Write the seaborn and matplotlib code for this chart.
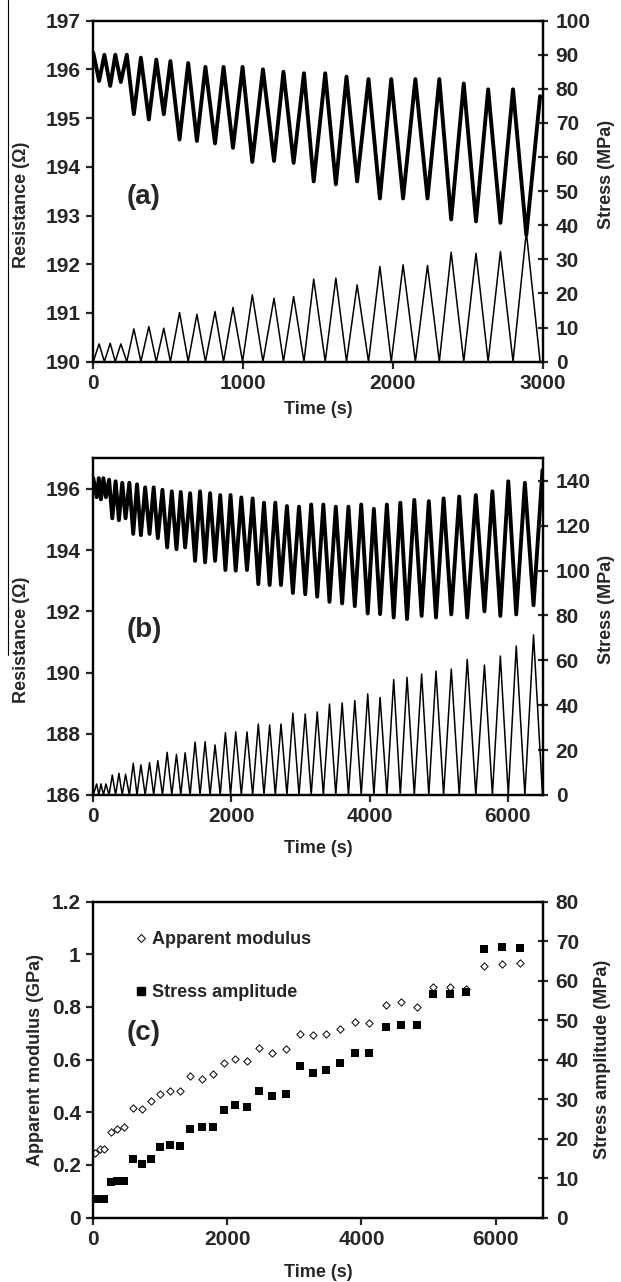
import matplotlib
matplotlib.use("Agg")
import matplotlib.pyplot as plt
import seaborn as sns
import pandas as pd
from matplotlib.lines import Line2D

# ---------------- panel (a): 0-3000 s ----------------
a_zero_t = [0, 74, 147, 224, 318, 421, 515, 634, 749, 870, 997, 1133, 1270, 1407,
            1549, 1691, 1838, 1990, 2151, 2311, 2474, 2637, 2803, 2984]
a_peak_t = [39, 113, 184, 271, 371, 471, 576, 692, 813, 933, 1062, 1207, 1338, 1472,
            1620, 1762, 1914, 2069, 2232, 2390, 2556, 2719, 2892]
a_peak_stress = [5.2, 5.4, 5.2, 9.6, 10.3, 9.8, 14.4, 13.9, 14.7, 15.9, 19.6, 18.6, 19.1,
                 24.2, 24.5, 22.5, 27.9, 28.4, 28.2, 32.1, 31.8, 32.3, 38.0]
a_res_max = [196.34, 196.30, 196.30, 196.30, 196.24, 196.20, 196.17, 196.13, 196.05, 196.05,
             196.05, 196.00, 195.95, 195.92, 195.92, 195.85, 195.80, 195.80, 195.80, 195.80,
             195.71, 195.59, 195.59, 195.45]
a_res_min = [195.76, 195.66, 195.74, 195.08, 194.97, 195.08, 194.56, 194.53, 194.48, 194.39,
             194.10, 194.12, 194.08, 193.70, 193.64, 193.70, 193.35, 193.35, 193.35, 192.92,
             192.88, 192.85, 192.60]

# ---------------- panel (b): 0-6500 s ----------------
b_zero_t = [0, 80, 147, 229, 323, 419, 522, 633, 751, 874, 1001, 1136, 1266, 1401, 1545,
            1690, 1837, 1986, 2142, 2306, 2470, 2634, 2802, 2977, 3153, 3329, 3509, 3692,
            3877, 4060, 4248, 4443, 4645, 4855, 5069, 5295, 5535, 5775, 6005, 6245, 6500]
b_peak_t = [49, 111, 183, 275, 371, 467, 578, 689, 814, 934, 1069, 1204, 1329, 1473, 1618,
            1762, 1912, 2061, 2224, 2388, 2552, 2716, 2888, 3067, 3240, 3418, 3601, 3784,
            3971, 4150, 4347, 4540, 4751, 4959, 5180, 5411, 5660, 5890, 6120, 6370]
b_peak_stress = [4.9, 4.9, 4.9, 8.9, 9.7, 9.2, 14.1, 13.4, 14.4, 15.3, 19.0, 18.1, 18.8,
                 23.6, 23.7, 22.3, 27.8, 28.1, 28.1, 31.6, 31.2, 31.6, 36.4, 36.1, 37.0,
                 40.5, 41.0, 42.0, 45.0, 43.5, 51.4, 52.4, 53.9, 55.2, 56.1, 60.4, 57.9,
                 61.9, 66.4, 71.3]
b_res_max = [196.35, 196.35, 196.35, 196.30, 196.25, 196.20, 196.20, 196.15, 196.05, 196.05,
             195.97, 195.92, 195.90, 195.86, 195.92, 195.86, 195.80, 195.80, 195.72, 195.69,
             195.55, 195.55, 195.44, 195.42, 195.49, 195.49, 195.42, 195.42, 195.49, 195.35,
             195.49, 195.55, 195.64, 195.60, 195.69, 195.75, 195.80, 195.92, 196.25, 196.20,
             196.62]
b_res_min = [195.73, 195.66, 195.73, 195.04, 194.98, 195.04, 194.53, 194.49, 194.53, 194.39,
             194.09, 194.03, 194.09, 193.65, 193.60, 193.65, 193.35, 193.33, 193.35, 192.89,
             192.86, 192.86, 192.60, 192.56, 192.48, 192.31, 192.26, 192.17, 191.93, 191.91,
             191.80, 191.75, 191.85, 191.80, 191.90, 191.80, 192.00, 191.85, 191.90, 192.20]

# ---------------- panel (c) ----------------
c_time = [30, 100, 165, 258, 357, 462, 591, 732, 866, 1001, 1147, 1294, 1446, 1616, 1780,
          1943, 2119, 2300, 2476, 2669, 2874, 3079, 3278, 3477, 3682, 3904, 4108, 4367,
          4590, 4824, 5064, 5315, 5561, 5824, 6094, 6369]
c_modulus = [0.245, 0.260, 0.262, 0.327, 0.336, 0.343, 0.415, 0.412, 0.443, 0.469, 0.481,
             0.481, 0.538, 0.526, 0.546, 0.589, 0.603, 0.596, 0.643, 0.627, 0.640, 0.697,
             0.694, 0.699, 0.716, 0.744, 0.741, 0.808, 0.817, 0.801, 0.875, 0.875, 0.869,
             0.957, 0.964, 0.966]
c_stress_amp = [4.75, 4.75, 4.75, 8.9, 9.2, 9.3, 14.9, 13.6, 14.9, 18.0, 18.4, 18.2, 22.5,
                22.9, 23.0, 27.2, 28.4, 28.1, 32.0, 30.9, 31.2, 38.3, 36.7, 37.4, 39.1, 41.7,
                41.7, 48.2, 48.7, 48.7, 56.5, 56.5, 57.0, 67.9, 68.4, 68.2]

sns.set_style("ticks")
plt.rcParams['font.family'] = ['Liberation Sans', 'DejaVu Sans']
plt.rcParams['font.weight'] = 'bold'
plt.rcParams['axes.labelweight'] = 'bold'
plt.rcParams['axes.linewidth'] = 1.6
plt.rcParams['axes.edgecolor'] = 'black'


def wave(zero_t, peak_t, zero_v, peak_v):
    # alternate valley / peak readings into one trace
    t, v = [], []
    for i in range(len(peak_t)):
        t += [zero_t[i], peak_t[i]]
        v += [zero_v[i], peak_v[i]]
    t.append(zero_t[-1])
    v.append(zero_v[-1])
    return pd.DataFrame({"t": t, "v": v})


def style(ax, side):
    if side == 'left':
        ax.tick_params(axis='y', labelsize=15, width=1.6, length=5, direction='out', pad=4)
    else:
        ax.tick_params(axis='y', labelsize=15, width=1.6, length=7, direction='inout', pad=6)
    ax.tick_params(axis='x', labelsize=15, width=1.6, length=5, direction='out', pad=4)
    for s in ax.spines.values():
        s.set_visible(True)
        s.set_linewidth(1.6)
        s.set_color('black')


fig = plt.figure(figsize=(6.21, 12.82), dpi=100)
L, W = 0.1502, 0.7234
panels = [(0.7179, 0.2660), (0.3799, 0.2626), (0.0502, 0.2465)]
lab = dict(fontsize=13, fontweight='bold')

# ----- (a) -----
ax = fig.add_axes([L, panels[0][0], W, panels[0][1]])
ax2 = ax.twinx()
res = wave(a_zero_t, a_peak_t, a_res_max, a_res_min)
st = wave(a_zero_t, a_peak_t, [0] * len(a_zero_t), a_peak_stress)
sns.lineplot(data=res, x="t", y="v", ax=ax, color='black', lw=2.8, sort=False, estimator=None)
sns.lineplot(data=st, x="t", y="v", ax=ax2, color='black', lw=1.1, sort=False, estimator=None)
ax.set_xlim(0, 3000)
ax.set_ylim(190, 197)
ax2.set_ylim(0, 100)
ax.set_xticks([0, 1000, 2000, 3000])
ax.set_yticks(range(190, 198))
ax2.set_yticks(range(0, 101, 10))
ax.set_xlabel("Time (s)", labelpad=6, **lab)
ax.set_ylabel("Resistance (Ω)", **lab)
ax2.set_ylabel("Stress (MPa)", **lab)
ax.yaxis.set_label_coords(-0.14, 0.46)
ax2.yaxis.set_label_coords(1.123, 0.55)
style(ax, 'left')
style(ax2, 'right')
ax.text(0.113, 0.483, "(a)", transform=ax.transAxes, ha='center', va='center',
        fontsize=20, fontweight='bold')

# ----- (b) -----
ax = fig.add_axes([L, panels[1][0], W, panels[1][1]])
ax2 = ax.twinx()
res = wave(b_zero_t, b_peak_t, b_res_max, b_res_min)
st = wave(b_zero_t, b_peak_t, [0] * len(b_zero_t), b_peak_stress)
sns.lineplot(data=res, x="t", y="v", ax=ax, color='black', lw=2.8, sort=False, estimator=None)
sns.lineplot(data=st, x="t", y="v", ax=ax2, color='black', lw=1.1, sort=False, estimator=None)
ax.set_xlim(0, 6500)
ax.set_ylim(186, 197)
ax2.set_ylim(0, 150)
ax.set_xticks([0, 2000, 4000, 6000])
ax.set_yticks(range(186, 197, 2))
ax2.set_yticks(range(0, 141, 20))
ax.set_xlabel("Time (s)", labelpad=10, **lab)
ax.set_ylabel("Resistance (Ω)", **lab)
ax2.set_ylabel("Stress (MPa)", **lab)
ax.yaxis.set_label_coords(-0.14, 0.46)
ax2.yaxis.set_label_coords(1.123, 0.55)
style(ax, 'left')
style(ax2, 'right')
ax.text(0.113, 0.49, "(b)", transform=ax.transAxes, ha='center', va='center',
        fontsize=20, fontweight='bold')

# ----- (c) -----
ax = fig.add_axes([L, panels[2][0], W, panels[2][1]])
ax2 = ax.twinx()
cdf = pd.DataFrame({"t": c_time, "mod": c_modulus, "amp": c_stress_amp})
sns.scatterplot(data=cdf, x="t", y="mod", ax=ax, marker='D', s=14, facecolor='white',
                edgecolor='black', linewidth=0.7)
sns.scatterplot(data=cdf, x="t", y="amp", ax=ax2, marker='s', s=30, color='black',
                edgecolor='black', linewidth=0)
ax.set_xlim(0, 6700)
ax.set_ylim(0, 1.2)
ax2.set_ylim(0, 80)
ax.set_xticks([0, 2000, 4000, 6000])
ax.set_yticks([0, 0.2, 0.4, 0.6, 0.8, 1.0, 1.2])
ax.set_yticklabels(['0', '0.2', '0.4', '0.6', '0.8', '1', '1.2'])
ax2.set_yticks(range(0, 81, 10))
ax.set_xlabel("Time (s)", labelpad=11, **lab)
ax.set_ylabel("Apparent modulus (GPa)", **lab)
ax2.set_ylabel("Stress amplitude (MPa)", **lab)
ax.yaxis.set_label_coords(-0.11, 0.5)
ax2.yaxis.set_label_coords(1.115, 0.5)
style(ax, 'left')
style(ax2, 'right')
ax.text(0.113, 0.584, "(c)", transform=ax.transAxes, ha='center', va='center',
        fontsize=20, fontweight='bold')
handles = [Line2D([], [], ls='none', marker='D', ms=4, mfc='white', mec='black', mew=0.7),
           Line2D([], [], ls='none', marker='s', ms=5.5, mfc='black', mec='black')]
ax.legend(handles, ["Apparent modulus", "Stress amplitude"], loc='upper left',
          bbox_to_anchor=(0.07, 0.93), frameon=False, fontsize=13, labelspacing=2.0,
          handletextpad=0.1, handlelength=1.0, borderaxespad=0)

# scan edge line on the left
fig.add_artist(Line2D([8 / 621, 8 / 621], [1.0, 1 - 655 / 1282], color='black', lw=0.8))

fig.savefig("out.png", dpi=100)
